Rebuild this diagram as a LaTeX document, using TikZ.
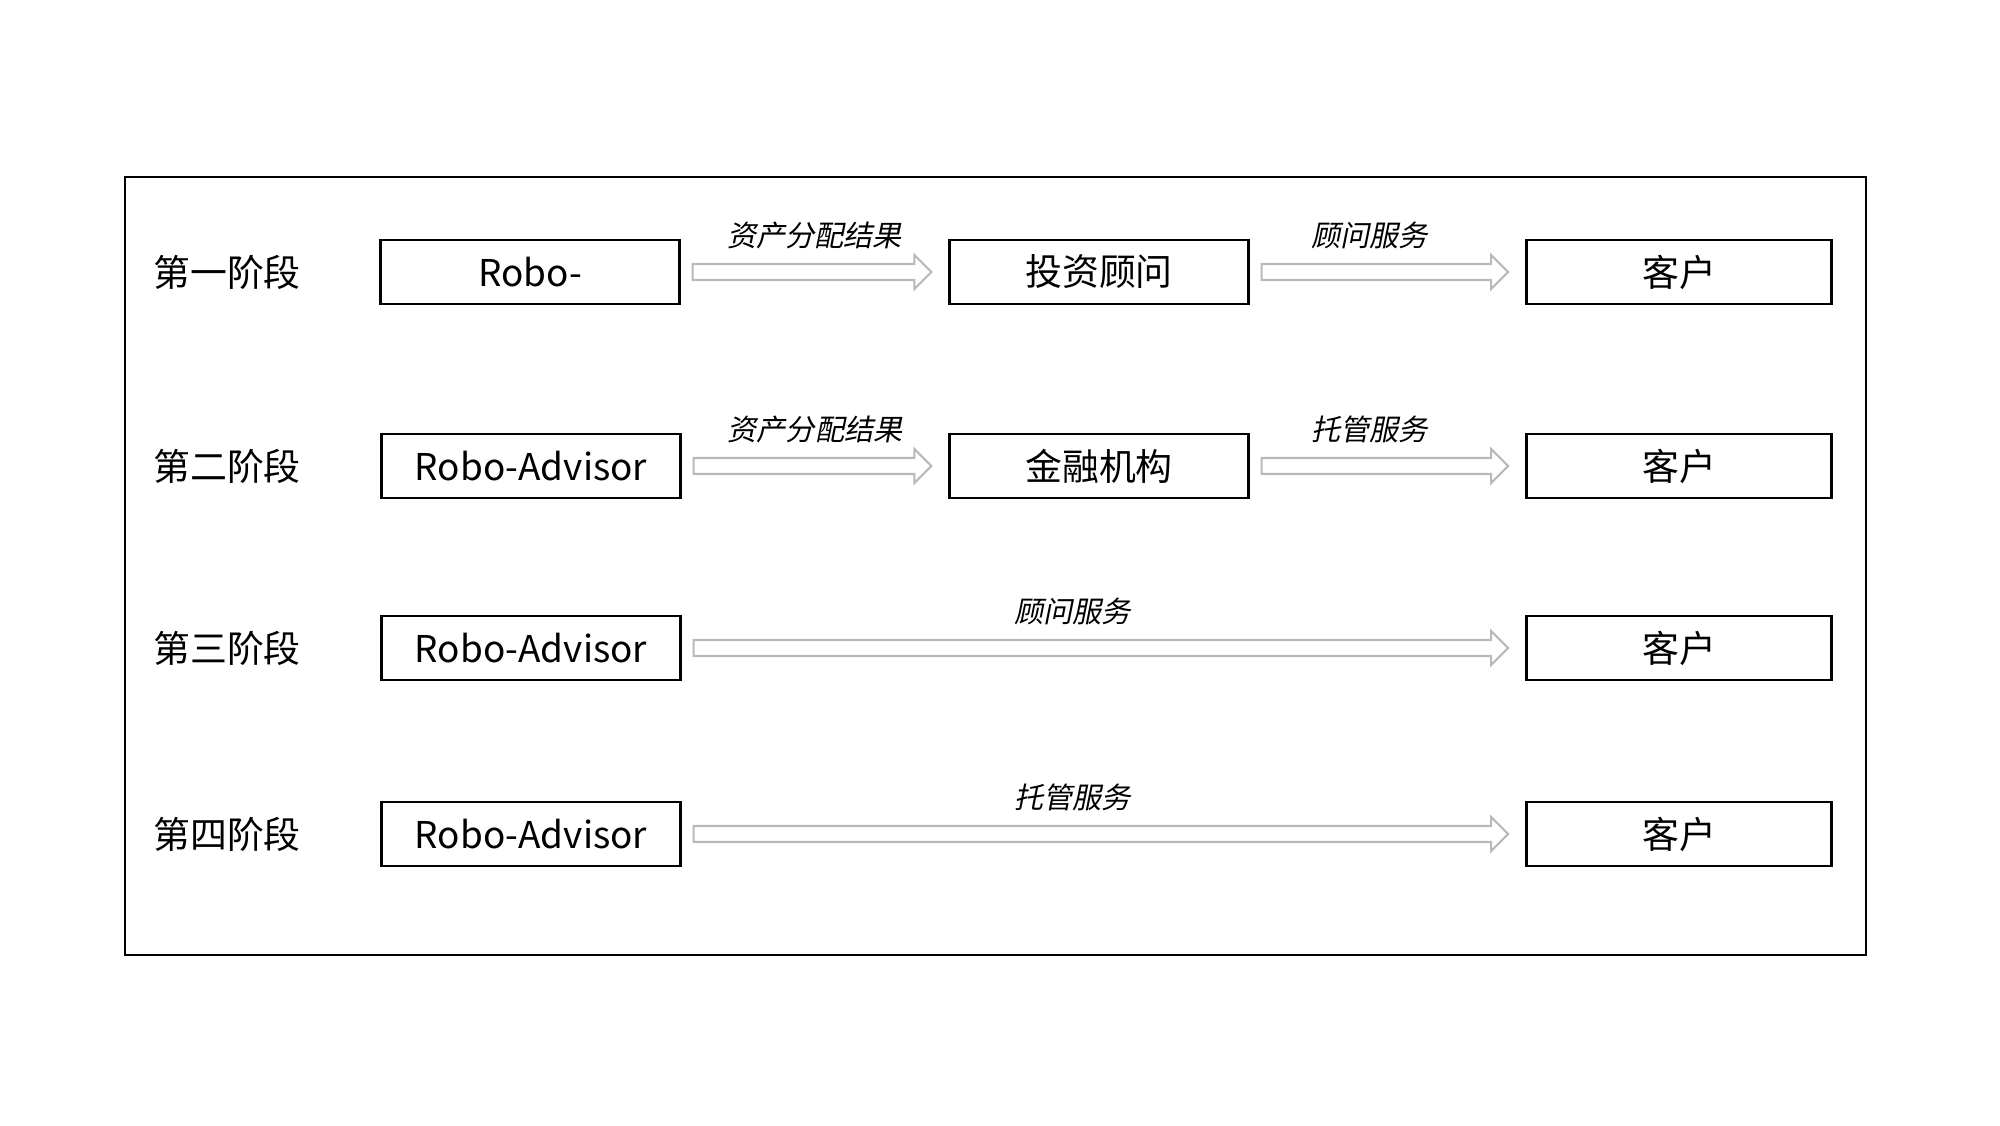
\documentclass[tikz,border=0pt]{standalone}
\usepackage{fontspec}
\setmainfont{Noto Sans CJK SC}
\newfontfamily\slantfont[FakeSlant=0.2]{Noto Sans CJK SC}
\usetikzlibrary{calc}

\begin{document}
\begin{tikzpicture}[
    box/.style={rectangle, draw, line width=0.8pt, minimum width=2.985cm, minimum height=0.64cm, inner sep=0pt, font=\fontsize{10.5pt}{12pt}\selectfont},
    stage/.style={font=\fontsize{10.5pt}{12pt}\selectfont},
    flow_label/.style={font=\slantfont\fontsize{8.3pt}{10pt}\selectfont, above=4pt, inner sep=0pt, pos=0.55},
    hollow_arrow/.style={draw=gray!55, line width=0.6pt, to path={
        ($(\tikztostart.east)+(0.12,0.08)$) -- ($(\tikztotarget.west)+(-0.34,0.08)$) \tikztonodes
        -- ($(\tikztotarget.west)+(-0.34,0.17)$) -- ($(\tikztotarget.west)+(-0.17,0)$)
        -- ($(\tikztotarget.west)+(-0.34,-0.17)$) -- ($(\tikztotarget.west)+(-0.34,-0.08)$)
        -- ($(\tikztostart.east)+(0.12,-0.08)$) -- cycle}}
]
    \useasboundingbox (0,0) rectangle (20,-11.25);
    % Frame
    \draw[line width=0.8pt] (1.25,-1.77) rectangle (18.66,-9.55);
    % Stage 1
    \node[stage] (s1) at (2.27,-2.72) {第一阶段};
    \node[box] (robo1) at (5.30,-2.72) {Robo-};
    \node[box] (advisor1) at (10.99,-2.72) {投资顾问};
    \node[box, minimum width=3.05cm] (client1) at (16.79,-2.72) {客户};
    % Stage 2
    \node[stage] (s2) at (2.27,-4.66) {第二阶段};
    \node[box] (robo2) at (5.31,-4.66) {Robo-Advisor};
    \node[box] (bank2) at (10.99,-4.66) {金融机构};
    \node[box, minimum width=3.05cm] (client2) at (16.79,-4.66) {客户};
    % Stage 3
    \node[stage] (s3) at (2.27,-6.48) {第三阶段};
    \node[box] (robo3) at (5.31,-6.48) {Robo-Advisor};
    \node[box, minimum width=3.05cm] (client3) at (16.79,-6.48) {客户};
    % Stage 4
    \node[stage] (s4) at (2.27,-8.34) {第四阶段};
    \node[box] (robo4) at (5.31,-8.34) {Robo-Advisor};
    \node[box, minimum width=3.05cm] (client4) at (16.79,-8.34) {客户};
    % Arrows
    \draw[hollow_arrow] (robo1) to node[flow_label] {资产分配结果} (advisor1);
    \draw[hollow_arrow] (advisor1) to node[flow_label, pos=0.47] {顾问服务} (client1);
    \draw[hollow_arrow] (robo2) to node[flow_label] {资产分配结果} (bank2);
    \draw[hollow_arrow] (bank2) to node[flow_label, pos=0.47] {托管服务} (client2);
    \draw[hollow_arrow] (robo3) to node[flow_label, pos=0.475] {顾问服务} (client3);
    \draw[hollow_arrow] (robo4) to node[flow_label, pos=0.475] {托管服务} (client4);
\end{tikzpicture}
\end{document}
